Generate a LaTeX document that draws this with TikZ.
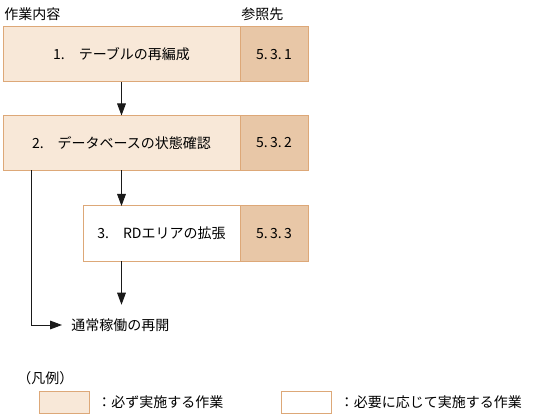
\documentclass[tikz,border=0pt]{standalone}
\usepackage{fontspec}
\setmainfont{Noto Sans CJK JP}
\usetikzlibrary{arrows.meta,positioning}
\definecolor{TaskFill}{HTML}{F8E8D8}
\definecolor{RefFill}{HTML}{E8C7A7}
\definecolor{TaskEdge}{HTML}{DDA878}
\definecolor{FlowInk}{HTML}{1A1A1A}

\begin{document}
\begin{tikzpicture}[x=0.75pt, y=-0.75pt,
  font=\fontsize{10.5pt}{12pt}\selectfont,
  task/.style={draw=TaskEdge, line width=0.75pt, minimum height=41.25pt,
               inner sep=0pt, outer sep=0pt, align=center},
  refcell/.style={task, fill=RefFill, minimum width=51pt},
  keybox/.style={task, minimum width=37.5pt, minimum height=16.5pt},
  flow/.style={-{Triangle[length=9pt, width=6.5pt]}, line width=0.75pt, draw=FlowInk},
  caption/.style={inner sep=0pt, anchor=west}
]
\useasboundingbox (0,0) rectangle (539,417);
% column headings
\node[caption] (hdtask) at (4,14) {作業内容};
\node[caption] (hdref) at (241,14) {参照先};
% tasks and their sections
\node[task, fill=TaskFill, minimum width=177.75pt] (task1) at (121.5,54.5)
  {1.　テーブルの再編成};
\node[refcell, right=0pt of task1] (ref1) {5.\,3.\,1};
\node[task, fill=TaskFill, minimum width=177.75pt] (task2) at (121.5,143)
  {2.　データベースの状態確認};
\node[refcell, right=0pt of task2] (ref2) {5.\,3.\,2};
\node[task, fill=white, minimum width=117.75pt] (task3) at (161.5,233.5)
  {3.　RDエリアの拡張};
\node[refcell, right=0pt of task3] (ref3) {5.\,3.\,3};
\node[caption, inner xsep=6.75pt, minimum height=30pt] (resume) at (62,325) {通常稼働の再開};
\draw[flow] (task1) -- (task2);
\draw[flow] (task2.south) -- (task2.south |- task3.north);
\draw[flow] (task2.south |- task3.south) -- (task2.south |- resume.north);
\draw[flow] ([xshift=21pt]task2.south west) |- (resume.west);
% legend
\node[caption] (legend) at (17,378) {（凡例）};
\node[keybox, fill=TaskFill] (keymust) at (64,402) {};
\node[caption, right=6pt of keymust] (txtmust) {：必ず実施する作業};
\node[keybox, fill=white] (keyopt) at (306.5,402) {};
\node[caption, right=6pt of keyopt] (txtopt) {：必要に応じて実施する作業};
\end{tikzpicture}
\end{document}
